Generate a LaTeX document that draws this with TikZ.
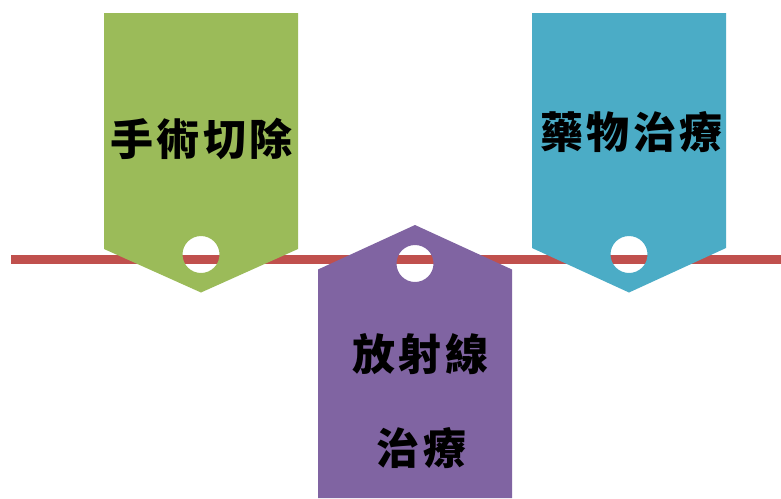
\documentclass[tikz,border=0pt]{standalone}
\usepackage{fontspec}
\newfontfamily\cjk[LetterSpace=8]{Noto Sans CJK TC}
\definecolor{tagGreen}{HTML}{9BBB59}
\definecolor{tagBlue}{HTML}{4BACC6}
\definecolor{tagPurple}{HTML}{8064A2}
\definecolor{lineRed}{HTML}{C0504D}
\tikzset{
  tagtext/.style={font=\cjk\bfseries\fontsize{43}{50}\selectfont, text=black, inner sep=0pt, anchor=center},
}
\begin{document}
\begin{tikzpicture}[x=1pt,y=-1pt]
\fill[white] (0,0) rectangle (781,498);
\useasboundingbox (0,0) rectangle (781,498);
% timeline
\fill[lineRed] (11,254.5) rectangle (781,263.5);
% green tag
\fill[tagGreen, even odd rule] (104,13) -- (298,13) -- (298,249) -- (201,292.5) -- (104,249) -- cycle
  (201,254.5) circle (18.5);
% blue tag
\fill[tagBlue, even odd rule] (532,13) -- (726,13) -- (726,248) -- (629,292.5) -- (532,248) -- cycle
  (629,254.5) circle (18.5);
% purple tag
\fill[tagPurple, even odd rule] (318,498) -- (318,269.5) -- (415,225) -- (512,269.5) -- (512,498) -- cycle
  (415,263.5) circle (18.5);
% texts
\node[tagtext] (t1) at (201.5,139) {手術切除};
\node[tagtext] (t2) at (631.5,132) {藥物治療};
\node[tagtext] (t3) at (420.5,354) {放射線};
\node[tagtext] (t4) at (421.5,448) {治療};
\end{tikzpicture}
\end{document}
